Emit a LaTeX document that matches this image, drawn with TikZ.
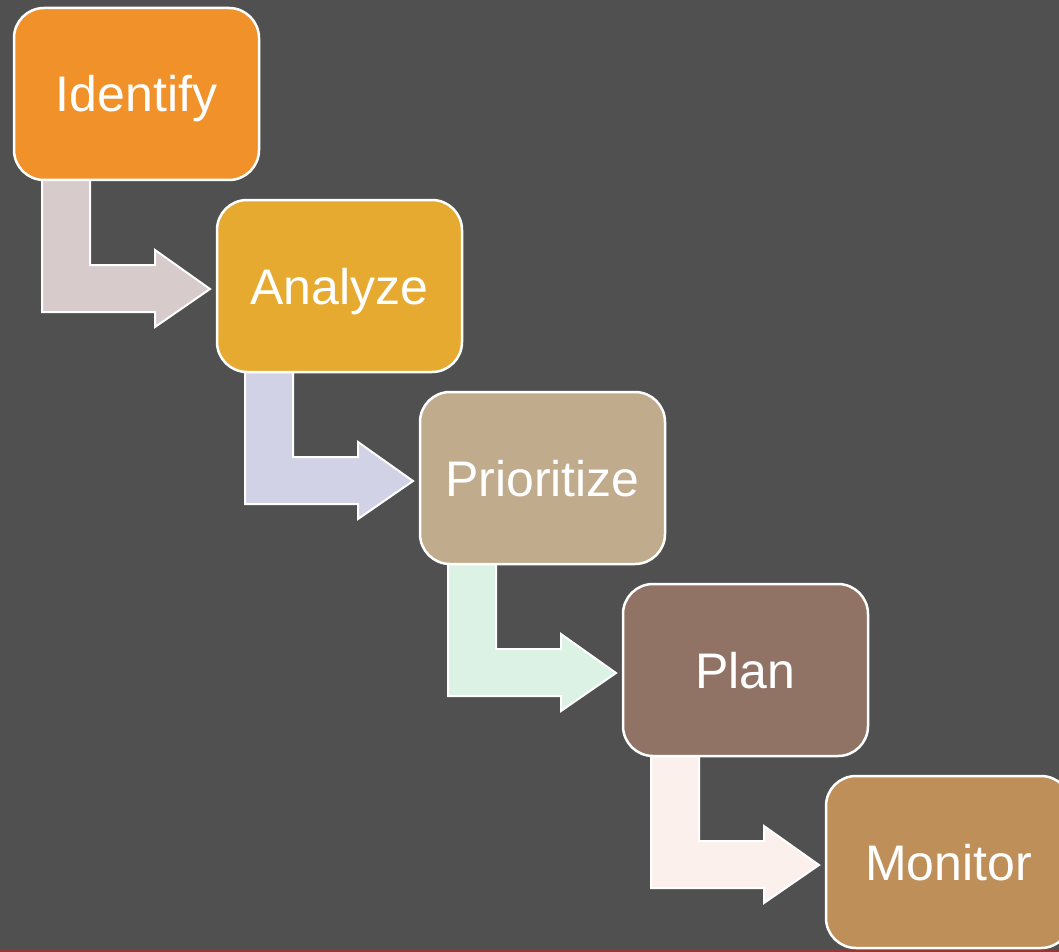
\documentclass[tikz,border=0pt]{standalone}
\usepackage{fontspec}
\setmainfont{Liberation Sans}
\definecolor{bgcol}{HTML}{505050}
\definecolor{redline}{HTML}{943634}
\definecolor{stepA}{HTML}{F0912A}
\definecolor{stepB}{HTML}{E6AA30}
\definecolor{stepC}{HTML}{C0AB8D}
\definecolor{stepD}{HTML}{917365}
\definecolor{stepE}{HTML}{BF8F5A}
\definecolor{arrowA}{HTML}{D8CBCB}
\definecolor{arrowB}{HTML}{D2D2E6}
\definecolor{arrowC}{HTML}{DBF2E5}
\definecolor{arrowD}{HTML}{FBF0EC}
\tikzset{
  stepbox/.style={draw=white, line width=2.5pt, rounded corners=30pt,
    minimum width=245pt, minimum height=172pt, inner sep=0pt,
    text height=36pt, text depth=0pt,
    text=white, font=\fontsize{50}{60}\selectfont},
  bentarrow/.style={draw=white, line width=2pt, line join=miter}
}
\begin{document}
\begin{tikzpicture}[x=1pt, y=1pt]
  \useasboundingbox (0,0) rectangle (1059,-952);
  \clip (0,0) rectangle (1059,-952);
  % background and bottom rule
  \fill[bgcol] (0,0) rectangle (1059,-952);
  \fill[redline] (0,-949) rectangle (1059,-952);

  % step positions (boxes are drawn after the arrows)
  \foreach \name/\i in {identify/0, analyze/1, prioritize/2, plan/3, monitor/4}
    \coordinate (\name-c) at (136.5+203*\i, -94-192*\i);

  % Bent arrows from one step to the next
  \foreach \from/\col in {identify/arrowA, analyze/arrowB, prioritize/arrowC, plan/arrowD} {
    \begin{scope}[shift={(\from-c)}, shift={(-122.5,-86)}]
      \filldraw[bentarrow, fill=\col]
        (28,0) -- (76,0) -- (76,-85) -- (141,-85) -- (141,-70)
        -- (196,-109) -- (141,-147) -- (141,-132) -- (28,-132) -- cycle;
    \end{scope}
  }

  % The steps
  \node[stepbox, fill=stepA] (identify) at (identify-c) {Identify};
  \node[stepbox, fill=stepB] (analyze) at (analyze-c) {Analyze};
  \node[stepbox, fill=stepC] (prioritize) at (prioritize-c) {Prioritize};
  \node[stepbox, fill=stepD] (plan) at (plan-c) {Plan};
  \node[stepbox, fill=stepE] (monitor) at (monitor-c) {Monitor};
\end{tikzpicture}
\end{document}
